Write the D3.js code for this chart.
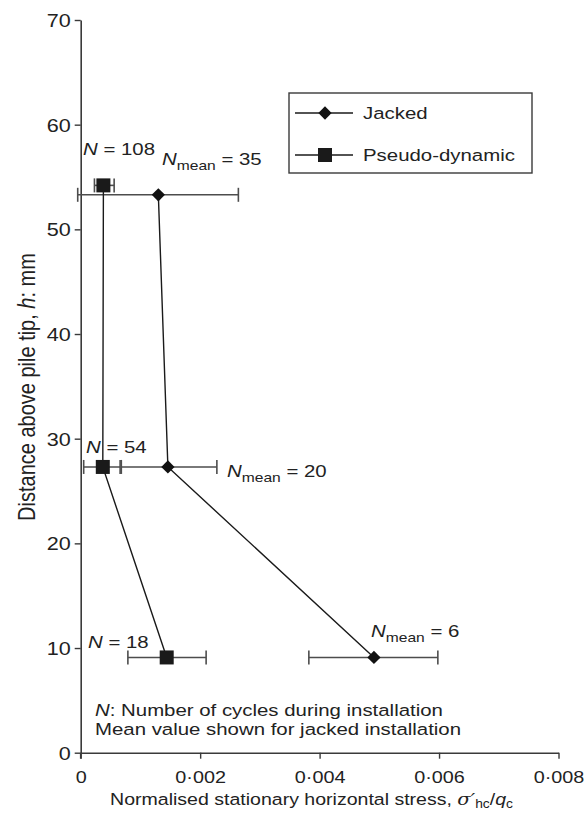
<!DOCTYPE html>
<html><head><meta charset="utf-8">
<script src="https://cdn.jsdelivr.net/npm/d3@7"></script>
<style>
html,body{margin:0;padding:0;background:#fff;}
svg{display:block;}
text{font-family:"Liberation Sans",Arial,sans-serif;fill:#222;}
</style></head>
<body>
<svg id="c" width="584" height="814"></svg>
<script>
// ---- data ----
const xTicks = [0, 0.002, 0.004, 0.006, 0.008];
const yTicks = [0, 10, 20, 30, 40, 50, 60, 70];
const seriesNames = ["Jacked", "Pseudo-dynamic"];
const jackedH  = [53.3, 27.3, 9.1];
const jackedX  = [0.00130, 0.00146, 0.00491];
const jackedLo = [-0.00005, 0.00068, 0.00382];
const jackedHi = [0.00264, 0.00228, 0.00598];
const pseudoH  = [54.2, 27.3, 9.1];
const pseudoX  = [0.00038, 0.00037, 0.00144];
const pseudoLo = [0.00023, 0.00005, 0.00079];
const pseudoHi = [0.00056, 0.00066, 0.00210];
const xTitle = "Normalised stationary horizontal stress, ";
const yTitle = "Distance above pile tip, ";
const notes = ["Number of cycles during installation", "Mean value shown for jacked installation"];

const SX = 1.2; // horizontal stretch of the original artwork
const svg = d3.select("#c");
const x = d3.scaleLinear().domain([0, 0.008]).range([80.7, 558.5]);
const y = d3.scaleLinear().domain([0, 70]).range([752.7, 20]);
const axisCol = "#3a3a3a";

// axes
const gx = svg.append("g").attr("transform", `translate(0,${y(0)})`)
  .call(d3.axisBottom(x).tickValues(xTicks).tickSize(6).tickSizeOuter(0)
    .tickFormat(d => d === 0 ? "0" : d3.format(".3f")(d).replace(".", "\u00B7")));
const gy = svg.append("g").attr("transform", `translate(${x(0)},0)`)
  .call(d3.axisLeft(y).tickValues(yTicks).tickSize(6).tickSizeOuter(0).tickFormat(d3.format("d")));
[gx, gy].forEach(g => {
  g.select(".domain").attr("stroke", axisCol).attr("stroke-width", 1.6);
  g.selectAll(".tick line").attr("stroke", axisCol).attr("stroke-width", 1.4);
  g.selectAll(".tick text").attr("fill", "#2a2a2a").style("font-family", '"Liberation Sans",Arial,sans-serif');
});
gx.selectAll(".tick text").attr("font-size", 16.5).attr("y", 30).attr("dy", 0)
  .attr("transform", `scale(${SX},1)`);
gy.selectAll(".tick text").attr("font-size", 18).attr("x", -10 / SX).attr("dy", "0.36em")
  .attr("transform", `scale(${SX},1)`);
gy.append("line").attr("x1", 0).attr("x2", 0).attr("y1", y(0)).attr("y2", y(0) + 6)
  .attr("stroke", axisCol).attr("stroke-width", 1.6);

// axis titles
const xt = svg.append("text").attr("transform", `translate(311.5,805) scale(1.15,1)`)
  .attr("text-anchor", "middle").attr("font-size", 17);
xt.append("tspan").text(xTitle);
xt.append("tspan").attr("font-family", '"DejaVu Serif",serif').attr("font-style", "italic").text("\u03C3\u2032");
xt.append("tspan").attr("font-size", 12).attr("dy", 3).text("hc");
xt.append("tspan").attr("dy", -3).text("/");
xt.append("tspan").attr("font-style", "italic").text("q");
xt.append("tspan").attr("font-size", 12).attr("dy", 3).text("c");

const yt = svg.append("text").attr("transform", `translate(35,387) scale(${SX},1) rotate(-90)`)
  .attr("text-anchor", "middle").attr("font-size", 20);
yt.append("tspan").text(yTitle);
yt.append("tspan").attr("font-style", "italic").text("h");
yt.append("tspan").text(": mm");

// error bars
function errBars(H, Lo, Hi, col) {
  const g = svg.append("g").attr("stroke", col).attr("stroke-width", 1.6).attr("fill", "none");
  H.forEach((h, i) => {
    const yy = y(h);
    g.append("line").attr("x1", x(Lo[i])).attr("x2", x(Hi[i])).attr("y1", yy).attr("y2", yy);
    [Lo[i], Hi[i]].forEach(v => g.append("line").attr("x1", x(v)).attr("x2", x(v))
      .attr("y1", yy - 7).attr("y2", yy + 7));
  });
}
errBars(jackedH, jackedLo, jackedHi, "#4d4d4d");
errBars(pseudoH, pseudoLo, pseudoHi, "#4d4d4d");

// lines
const line = d3.line().x(d => x(d[0])).y(d => y(d[1]));
svg.append("path").datum(jackedX.map((v, i) => [v, jackedH[i]]))
  .attr("d", line).attr("fill", "none").attr("stroke", "#1a1a1a").attr("stroke-width", 1.4);
svg.append("path").datum(pseudoX.map((v, i) => [v, pseudoH[i]]))
  .attr("d", line).attr("fill", "none").attr("stroke", "#1a1a1a").attr("stroke-width", 1.4);

// markers
function drawDiamond(cx, cy) {
  svg.append("path").attr("d", d3.symbol().type(d3.symbolSquare).size(88)())
    .attr("transform", `translate(${cx},${cy}) rotate(45)`).attr("fill", "#111");
}
function drawSquare(cx, cy) {
  svg.append("rect").attr("x", cx - 7).attr("y", cy - 7).attr("width", 14).attr("height", 14).attr("fill", "#1a1a1a");
}
jackedX.forEach((v, i) => drawDiamond(x(v), y(jackedH[i])));
pseudoX.forEach((v, i) => drawSquare(x(v), y(pseudoH[i])));

// stretched text helper
function stext(tx, ty, size) {
  return svg.append("text").attr("transform", `translate(${tx},${ty}) scale(${SX},1)`).attr("font-size", size);
}

// legend
svg.append("rect").attr("x", 289).attr("y", 93).attr("width", 243).attr("height", 80)
  .attr("fill", "#fff").attr("stroke", "#3a3a3a").attr("stroke-width", 1.4);
[113, 155].forEach((ly, i) => {
  svg.append("line").attr("x1", 295).attr("x2", 353).attr("y1", ly).attr("y2", ly)
    .attr("stroke", "#1a1a1a").attr("stroke-width", 1.4);
  if (i === 0) drawDiamond(325, ly); else drawSquare(325, ly);
  stext(363, ly + 6, 17).text(seriesNames[i]);
});

// annotations
function nLabel(tx, ty, val) {
  const t = stext(tx, ty, 17);
  t.append("tspan").attr("font-style", "italic").text("N");
  t.append("tspan").text(" = " + val);
}
function nMeanLabel(tx, ty, val) {
  const t = stext(tx, ty, 17);
  t.append("tspan").attr("font-style", "italic").text("N");
  t.append("tspan").attr("font-size", 13).attr("dy", 5).text("mean");
  t.append("tspan").attr("dy", -5).text(" = " + val);
}
nLabel(83, 155, "108");
nMeanLabel(162, 165, "35");
nLabel(86, 453, "54");
nMeanLabel(227, 477, "20");
nLabel(88, 648, "18");
nMeanLabel(371, 637, "6");

const n1 = stext(95, 716, 17);
n1.append("tspan").attr("font-style", "italic").text("N");
n1.append("tspan").text(": " + notes[0]);
stext(95, 735, 17).text(notes[1]);
</script>
</body></html>
